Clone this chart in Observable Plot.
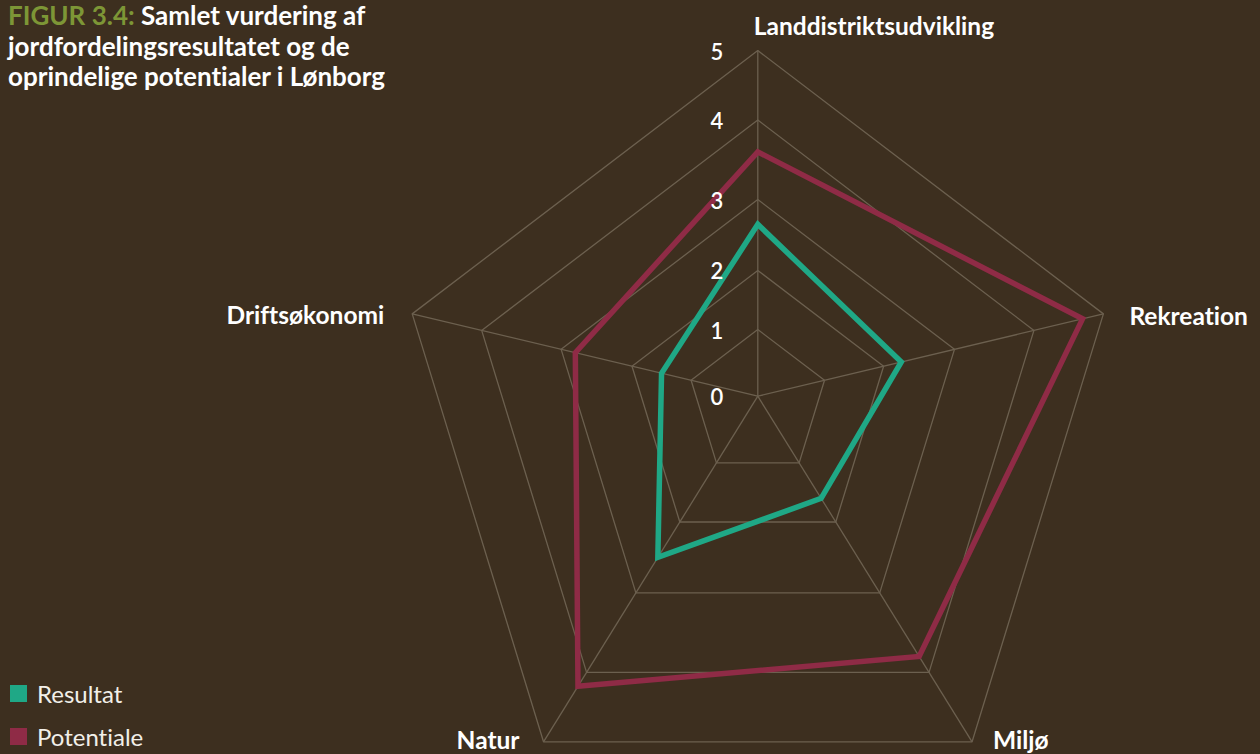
<!DOCTYPE html>
<html>
<head>
<meta charset="utf-8">
<script src="https://cdn.jsdelivr.net/npm/d3@7"></script>
<script src="https://cdn.jsdelivr.net/npm/@observablehq/plot@0.6"></script>
<style>
  html, body { margin: 0; padding: 0; background: #3d2f1f; }
  #wrap { position: relative; width: 1260px; height: 754px; overflow: hidden; font-family: Lato, "Open Sans", sans-serif; background: #3d2f1f; font-variant-ligatures: none; font-feature-settings: "liga" 0, "clig" 0, "calt" 0, "dlig" 0; }
  #chart { position: absolute; left: 0; top: 0; }
  #chart svg text { font-variant-ligatures: none; font-feature-settings: "liga" 0, "clig" 0, "calt" 0, "dlig" 0; }
  #title { position: absolute; left: 8px; top: 0px; color: #ffffff; font-weight: 700; font-size: 26px; line-height: 30.5px; }
  #title .fig { color: #7d9636; }
  #legend { position: absolute; left: 10px; top: 672px; color: #f2efe9; font-size: 24px; }
  #legend .item { display: flex; align-items: center; height: 43px; }
  #legend .sw { width: 17px; height: 17px; margin-right: 10px; }
</style>
</head>
<body>
<div id="wrap">
  <div id="chart"></div>
  <div id="title"><span class="fig">FIGUR 3.4:</span> Samlet vurdering af<br>jordfordelingsresultatet og de<br>oprindelige potentialer i Lønborg</div>
  <div id="legend"></div>
</div>
<script>
// ---- data ----
const categories = ["Landdistriktsudvikling", "Rekreation", "Miljø", "Natur", "Driftsøkonomi"];
const resultat   = [2.65, 2.25, 1.6, 2.5, 1.5];
const potentiale = [3.6, 4.7, 3.8, 4.2, 2.8];
const tickValues = [0, 1, 2, 3, 4, 5];
const seriesNames = ["Resultat", "Potentiale"];

// ---- layout / style ----
const colors = {Resultat: "#1fa886", Potentiale: "#8f2b46"};
const gridColor = "#6c604f";
const spokeAngles = [90, 13.4, -58.2, -121.8, 166.6];       // degrees, y up
const ringFractions = [0, 0.193, 0.364, 0.569, 0.799, 1];   // radial position of each ring
const labelPlacement = [
  {anchor: "start", dx: -4,  dy: -23},
  {anchor: "start", dx: 26,  dy: 3},
  {anchor: "start", dx: 21,  dy: -1},
  {anchor: "end",   dx: -24, dy: -1},
  {anchor: "end",   dx: -28, dy: 2}
];
const cx = 757.3, cy = 395.7, R = 345.6, W = 1260, H = 754;

// radial scale (value -> fraction of outer radius)
const rScale = d3.scaleLinear().domain(tickValues).range(ringFractions);
const dirs = spokeAngles.map(a => {
  const t = a * Math.PI / 180, c = Math.cos(t), s = Math.sin(t);
  const m = Math.max(Math.abs(c), Math.abs(s));
  return {x: c / m, y: s / m};
});
const pt = (v, i) => ({x: dirs[i].x * rScale(v), y: dirs[i].y * rScale(v)});
const maxV = tickValues[tickValues.length - 1];

const rings = tickValues.filter(t => t > 0).flatMap(t => categories.map((c, i) => ({ring: t, ...pt(t, i)})));
const spokes = categories.map((c, i) => ({x2: pt(maxV, i).x, y2: pt(maxV, i).y}));
const seriesData = {Resultat: resultat, Potentiale: potentiale};
const seriesPts = name => seriesData[name].map((v, i) => ({series: name, ...pt(v, i)}));

const labelMarks = categories.map((c, i) => Plot.text([c], {
  x: () => pt(maxV, i).x, y: () => pt(maxV, i).y, text: d => d,
  textAnchor: labelPlacement[i].anchor, dx: labelPlacement[i].dx, dy: labelPlacement[i].dy,
  fill: "#ffffff", fontSize: 24.5, fontWeight: "bold"
}));

const chart = Plot.plot({
  width: W, height: H,
  marginLeft: cx - R, marginRight: W - (cx + R), marginTop: cy - R, marginBottom: H - (cy + R),
  x: {domain: [-1, 1], axis: null},
  y: {domain: [-1, 1], axis: null},
  style: {background: "transparent", fontFamily: "Lato, 'Open Sans', sans-serif", overflow: "visible"},
  marks: [
    Plot.line(rings, {x: "x", y: "y", z: "ring", curve: "linear-closed", stroke: gridColor, strokeWidth: 1.3}),
    Plot.link(spokes, {x1: () => 0, y1: () => 0, x2: "x2", y2: "y2", stroke: gridColor, strokeWidth: 1.3}),
    ...seriesNames.map(n => Plot.line(seriesPts(n), {x: "x", y: "y", curve: "linear-closed", stroke: colors[n], strokeWidth: 5.5, strokeLinejoin: "miter", strokeMiterlimit: 10})),
    Plot.text(tickValues, {x: () => 0, y: t => rScale(t), text: t => String(t), dx: -41, dy: 2, fill: "#ffffff", fontSize: 22, fontWeight: 600}),
    ...labelMarks
  ]
});
document.getElementById("chart").appendChild(chart);

const legend = document.getElementById("legend");
seriesNames.forEach(n => {
  const item = document.createElement("div");
  item.className = "item";
  item.innerHTML = `<span class="sw" style="background:${colors[n]}"></span><span>${n}</span>`;
  legend.appendChild(item);
});
</script>
</body>
</html>
